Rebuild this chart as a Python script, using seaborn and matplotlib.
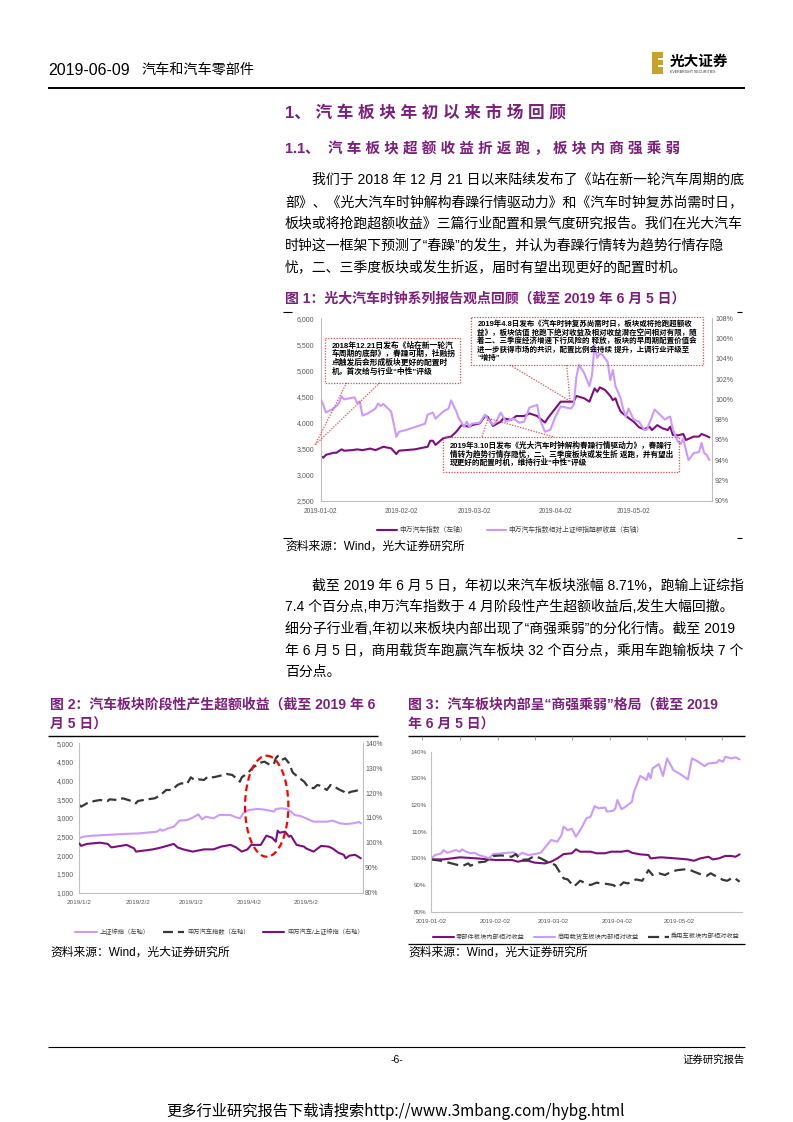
import numpy as np
import pandas as pd
import matplotlib
matplotlib.use("Agg")
import matplotlib.pyplot as plt
import seaborn as sns
from matplotlib.patches import Rectangle, Ellipse
from matplotlib.lines import Line2D

# ---------------- data ----------------
# Figure 1: 申万汽车指数 (left axis)
c1_index_dates = ["01-02","01-03","01-04","01-07","01-08","01-10","01-11","01-14","01-16","01-18",
                  "01-21","01-23","01-26","01-29","01-31","02-01","02-07","02-12","02-13","02-14",
                  "02-15","02-18","02-21","02-23","02-25","02-28","03-01","03-04","03-06","03-07",
                  "03-09","03-12","03-13","03-16","03-18","03-21","03-23","03-26","03-27","03-29",
                  "03-30","04-01","04-04","04-07","04-09","04-10","04-13","04-15","04-17","04-18",
                  "04-19","04-21","04-23","04-24","04-25","04-26","04-27","04-29","05-02","05-04",
                  "05-06","05-08","05-09","05-11","05-13","05-15","05-16","05-17","05-19","05-21",
                  "05-22","05-25","05-27","05-28","05-30","05-31"]
c1_index_vals = [3358,3325,3380,3420,3420,3485,3460,3470,3485,3470,
                 3500,3470,3535,3505,3395,3460,3485,3535,3650,3650,
                 3570,3700,3730,3825,3950,3920,3950,3985,4125,4110,
                 3935,4015,4080,4050,4125,4125,4175,4125,4080,4000,
                 4080,4210,4400,4400,4400,4510,4465,4400,4655,4590,
                 4675,4625,4510,4430,4465,4320,4210,4125,4015,3910,
                 3870,3920,3855,3950,3890,3855,3920,3760,3755,3780,
                 3665,3730,3730,3780,3740,3715]
# Figure 1: 申万汽车指数相对上证综指超额收益 (right axis, %)
c1_excess_dates = ["01-02","01-03","01-04","01-07","01-09","01-10","01-11","01-13","01-15","01-16",
                   "01-17","01-18","01-20","01-23","01-24","01-25","01-26","01-29","01-30","01-31",
                   "02-01","02-04","02-11","02-12","02-14","02-15","02-18","02-20","02-21","02-23",
                   "02-24","02-26","02-27","02-28","03-01","03-04","03-06","03-07","03-09","03-10",
                   "03-12","03-14","03-17","03-19","03-21","03-23","03-26","03-27","03-29","03-31",
                   "04-02","04-04","04-08","04-09","04-10","04-11","04-13","04-15","04-16","04-17",
                   "04-18","04-19","04-20","04-22","04-23","04-24","04-25","04-27","04-28","04-29",
                   "04-30","05-02","05-04","05-06","05-07","05-09","05-10","05-12","05-14","05-15",
                   "05-16","05-17","05-19","05-20","05-21","05-22","05-23","05-25","05-27","05-28",
                   "05-29","05-30","05-31"]
c1_excess_vals = [100.0,99.45,98.7,99.1,99.6,100.3,100.0,100.1,100.2,99.6,
                  99.8,98.4,98.6,99.1,99.6,99.35,99.55,98.8,97.6,96.3,
                  96.8,97.0,97.6,98.5,98.7,98.1,98.8,99.1,99.9,98.8,
                  98.1,97.3,97.8,97.3,97.6,97.7,98.5,98.1,97.5,97.7,
                  98.7,97.8,98.1,97.7,97.8,99.2,99.45,98.0,96.8,97.0,
                  98.3,99.3,99.1,99.45,102.2,103.4,102.6,101.3,102.4,105.4,
                  104.1,104.5,104.4,103.7,101.9,102.9,101.3,100.1,99.0,98.3,
                  99.1,98.0,97.8,97.0,97.0,98.3,99.0,98.5,98.0,98.2,
                  98.3,97.0,95.8,95.6,96.1,95.0,94.0,94.7,94.8,95.7,
                  94.7,94.5,94.0]
c1_left_ticks = [2500, 3000, 3500, 4000, 4500, 5000, 5500, 6000]
c1_left_labels = ["2,500", "3,000", "3,500", "4,000", "4,500", "5,000", "5,500", "6,000"]
c1_right_ticks = [90, 92, 94, 96, 98, 100, 102, 104, 106, 108]
c1_right_labels = ["90%", "92%", "94%", "96%", "98%", "100%", "102%", "104%", "106%", "108%"]
c1_xtick_labels = ["2019-01-02", "2019-02-02", "2019-03-02", "2019-04-02", "2019-05-02"]
c1_legend = ["申万汽车指数（左轴）", "申万汽车指数相对上证综指超额收益（右轴）"]

# Figure 2
c2_auto_dates = ["01-02","01-03","01-06","01-10","01-13","01-17","01-18","01-22","01-25","01-29",
                 "02-01","02-02","02-07","02-11","02-14","02-17","02-20","02-23","02-25","02-28",
                 "03-02","03-04","03-06","03-09","03-11","03-14","03-17","03-21","03-24","03-26",
                 "03-28","03-29","04-01","04-04","04-08","04-10","04-13","04-15","04-16","04-17",
                 "04-19","04-21","04-23","04-25","04-28","05-01","05-03","05-06","05-08","05-10",
                 "05-13","05-15","05-17","05-20","05-22","05-23","05-26","05-28","05-30","05-31"]
c2_auto_vals = [3348,3304,3393,3455,3482,3455,3500,3482,3527,3464,
                3393,3455,3500,3527,3616,3750,3750,3884,3929,3911,
                4089,4018,4036,4018,4107,4089,4125,4179,4152,4063,
                3973,4089,4196,4357,4482,4509,4420,4446,4598,4661,
                4554,4598,4464,4214,4089,3973,3839,3795,3884,3857,
                3750,3884,3839,3750,3705,3643,3705,3723,3750,3705]
c2_sh_dates = ["01-02","01-04","01-09","01-16","01-25","02-03","02-12","02-14","02-15","02-18",
               "02-21","02-24","02-28","03-03","03-06","03-08","03-10","03-14","03-17","03-23",
               "03-26","03-28","03-30","04-02","04-06","04-09","04-13","04-15","04-16","04-19",
               "04-22","04-24","04-26","04-29","05-02","05-06","05-09","05-13","05-16","05-20",
               "05-23","05-27","05-30","05-31"]
c2_sh_vals = [2455,2500,2527,2545,2571,2589,2634,2696,2661,2723,
              2768,2929,2946,3009,3098,2964,3036,2991,3080,3080,
              3018,2991,3143,3214,3241,3232,3196,3170,3241,3259,
              3241,3170,3080,3054,2991,2902,2902,2902,2929,2857,
              2839,2857,2893,2857]
c2_ratio_dates = ["01-02","01-03","01-06","01-09","01-13","01-17","01-19","01-24","01-27","01-31",
                  "02-01","02-05","02-10","02-14","02-16","02-21","02-23","02-26","03-03","03-09",
                  "03-14","03-18","03-23","03-26","03-29","04-01","04-03","04-08","04-11","04-14",
                  "04-16","04-17","04-18","04-21","04-23","04-24","04-27","05-01","05-02","05-06",
                  "05-10","05-14","05-16","05-19","05-22","05-23","05-25","05-28","05-30","05-31"]
c2_ratio_vals = [99.8,98.8,99.6,99.8,100.1,99.6,98.2,98.8,99.2,97.8,
                 96.5,96.9,97.4,98.1,98.5,99.6,98.2,97.4,96.5,97.4,
                 97.4,98.5,99.2,98.2,96.5,97.4,99.2,99.2,102.9,102.1,
                 100.5,104.9,104.1,104.5,102.5,102.9,99.2,98.5,97.8,96.5,
                 98.8,98.5,97.8,96.1,95.2,93.8,94.9,95.2,94.3,93.8]
c2_left_ticks = [1000, 1500, 2000, 2500, 3000, 3500, 4000, 4500, 5000]
c2_left_labels = ["1,000", "1,500", "2,000", "2,500", "3,000", "3,500", "4,000", "4,500", "5,000"]
c2_right_ticks = [80, 90, 100, 110, 120, 130, 140]
c2_right_labels = ["80%", "90%", "100%", "110%", "120%", "130%", "140%"]
c2_xtick_dates = ["2019-01-02", "2019-02-02", "2019-03-02", "2019-04-02", "2019-05-02"]
c2_xtick_labels = ["2019/1/2", "2019/2/2", "2019/3/2", "2019/4/2", "2019/5/2"]
c2_legend = ["上证综指（左轴）", "申万汽车指数（左轴）", "申万汽车/上证综指（右轴）"]

# Figure 3
c3_parts_dates = ["01-02","01-08","01-16","01-24","02-02","02-10","02-13","02-15","02-18","02-21",
                  "02-26","03-01","03-04","03-07","03-11","03-13","03-15","03-20","03-23","03-27",
                  "03-30","04-04","04-07","04-09","04-13","04-17","04-18","04-23","04-30","05-06",
                  "05-09","05-12","05-16","05-18","05-21","05-24","05-27","05-29","05-31"]
c3_parts_vals = [99.6,99.6,100.4,100.0,99.4,99.4,98.75,99.1,99.1,98.4,
                 98.1,98.75,100.0,101.6,101.9,103.4,102.5,102.5,101.9,101.9,
                 102.5,102.5,102.9,102.1,101.5,101.25,100.0,100.4,100.0,99.6,
                 99.1,100.0,100.6,99.6,100.0,100.9,100.9,100.6,101.5]
c3_truck_dates = ["01-02","01-04","01-07","01-08","01-10","01-13","01-14","01-16","01-17","01-19",
                  "01-21","01-23","01-25","01-28","01-30","02-01","02-05","02-08","02-11","02-13",
                  "02-15","02-18","02-21","02-24","02-27","03-01","03-04","03-06","03-07","03-09",
                  "03-11","03-13","03-16","03-18","03-20","03-22","03-24","03-27","03-28","03-31",
                  "04-01","04-02","04-04","04-06","04-09","04-10","04-13","04-15","04-16","04-17",
                  "04-18","04-19","04-22","04-24","04-26","04-29","05-03","05-06","05-08","05-11",
                  "05-14","05-16","05-20","05-21","05-23","05-24","05-27","05-29","05-31"]
c3_truck_vals = [100.0,101.25,101.9,103.1,102.1,102.9,103.1,102.5,103.4,102.5,
                 101.9,102.1,101.25,100.6,100.0,101.6,101.9,102.1,102.25,100.9,
                 102.1,101.25,101.6,102.1,105.0,106.9,106.25,108.75,111.9,110.6,
                 111.1,108.1,111.9,115.0,115.6,119.6,118.75,119.1,117.5,117.9,
                 118.75,121.9,118.4,119.4,121.25,125.0,130.9,130.0,129.4,131.9,
                 130.0,133.75,135.4,130.9,137.5,133.1,131.25,129.6,137.5,136.25,
                 134.6,135.6,135.9,136.9,136.25,138.1,137.5,137.9,137.1]
c3_car_dates = ["01-02","01-07","01-12","01-17","01-20","01-21","01-25","01-28","01-30","02-01",
                "02-05","02-10","02-12","02-14","02-18","02-21","02-24","02-27","03-03","03-05",
                "03-07","03-09","03-12","03-15","03-18","03-20","03-23","03-25","03-28","03-31",
                "04-02","04-05","04-07","04-11","04-14","04-17","04-19","04-22","04-25","04-28",
                "05-01","05-06","05-09","05-12","05-15","05-17","05-20","05-23","05-25","05-28",
                "05-31"]
c3_car_vals = [99.6,99.1,98.1,97.1,98.1,97.25,98.5,98.75,99.75,100.9,
               101.1,100.6,101.6,99.4,99.6,100.9,100.0,98.75,97.5,95.0,
               92.5,92.1,89.4,91.6,90.6,90.0,90.9,90.6,90.4,90.0,
               89.0,91.0,90.6,92.1,91.6,95.6,93.75,94.4,93.75,95.0,
               95.6,96.0,95.0,94.1,93.4,94.4,93.1,91.9,91.6,92.9,
               91.25]
c3_ticks = [80, 90, 100, 110, 120, 130, 140]
c3_tick_labels = ["80%", "90%", "100%", "110%", "120%", "130%", "140%"]
c3_xtick_labels = ["2019-01-02", "2019-02-02", "2019-03-02", "2019-04-02", "2019-05-02"]
c3_legend = ["零部件板块内部相对收益", "商用载货车板块内部相对收益", "乘用车板块内部相对收益"]

# ---------------- style ----------------
sns.set_theme(style="white")
MIX = ["Liberation Sans", "Noto Sans CJK SC", "DejaVu Sans"]
plt.rcParams["font.family"] = MIX
plt.rcParams["axes.unicode_minus"] = False

DARK = "#7E0E80"
LIGHT = "#CC99FF"
BLACKD = "#383838"
PURPLE_T = "#7E1F7F"
SPINE = "#BFBFBF"
TICKC = "#595959"
RED = "#F04848"

W, H = 793, 1122
fig = plt.figure(figsize=(W / 100, H / 100), dpi=100)
fig.patch.set_facecolor("white")


def axes_px(l, t, r, b):
    return fig.add_axes([l / W, 1 - b / H, (r - l) / W, (b - t) / H])


def dts(lst):
    return pd.to_datetime(["2019-" + s for s in lst])


XMIN, XMAX = pd.Timestamp("2019-01-02"), pd.Timestamp("2019-06-01")


def style_axes(ax, twin=None, ylab_pad=4.5, rlab_pad=2.0, xfs=4.8, yfs=5.0):
    ax.set_facecolor("none")
    ax.spines["top"].set_visible(False)
    ax.spines["right"].set_visible(False)
    for s in ["left", "bottom"]:
        ax.spines[s].set_color(SPINE)
        ax.spines[s].set_linewidth(0.8)
    ax.tick_params(axis="y", length=0, labelsize=yfs, labelcolor=TICKC, pad=ylab_pad)
    ax.tick_params(axis="x", length=2.5, width=0.6, color=SPINE, labelsize=xfs,
                   labelcolor=TICKC, pad=3)
    ax.set_xlabel("")
    ax.set_ylabel("")
    ax.grid(False)
    if twin is not None:
        for s in ["top", "left", "bottom"]:
            twin.spines[s].set_visible(False)
        twin.spines["right"].set_visible(True)
        twin.spines["right"].set_color(SPINE)
        twin.spines["right"].set_linewidth(0.8)
        twin.tick_params(axis="y", length=0, labelsize=yfs, labelcolor=TICKC, pad=rlab_pad)
        twin.set_ylabel("")
        twin.grid(False)


# ---------------- Figure 1 ----------------
ax1 = axes_px(320.7, 318.3, 712, 500.7)
sns.lineplot(x=dts(c1_index_dates), y=c1_index_vals, ax=ax1, color=DARK, lw=1.5, legend=False)
ax1b = ax1.twinx()
sns.lineplot(x=dts(c1_excess_dates), y=c1_excess_vals, ax=ax1b, color=LIGHT, lw=1.5, legend=False)
ax1.set_xlim(XMIN, XMAX)
ax1.set_ylim(2500, 6000)
ax1.set_yticks(c1_left_ticks)
ax1.set_yticklabels(c1_left_labels)
ax1b.set_ylim(90, 108)
ax1b.set_yticks(c1_right_ticks)
ax1b.set_yticklabels(c1_right_labels)
ax1.set_xticks(pd.to_datetime(c1_xtick_labels))
ax1.set_xticklabels(c1_xtick_labels)
style_axes(ax1, ax1b, ylab_pad=4.6, rlab_pad=2.2, xfs=4.8, yfs=5.0)
fig.legend([ax1.lines[0], ax1b.lines[0]], c1_legend, loc="center left",
           bbox_to_anchor=(377 / W, 1 - 530.7 / H), ncol=2, frameon=False, fontsize=4.9,
           handlelength=2.9, handletextpad=0.3, columnspacing=3.0, borderpad=0,
           borderaxespad=0, labelcolor="#404040")

# ---------------- Figure 2 ----------------
ax2 = axes_px(79.3, 743.3, 362.7, 892.7)
sns.lineplot(x=dts(c2_sh_dates), y=c2_sh_vals, ax=ax2, color=LIGHT, lw=1.5, legend=False)
sns.lineplot(x=dts(c2_auto_dates), y=c2_auto_vals, ax=ax2, color=BLACKD, lw=1.6,
             linestyle=(0, (4.5, 2.2)), legend=False)
ax2b = ax2.twinx()
sns.lineplot(x=dts(c2_ratio_dates), y=c2_ratio_vals, ax=ax2b, color=DARK, lw=1.5, legend=False)
ax2.set_xlim(XMIN, XMAX)
ax2.set_ylim(1000, 5000)
ax2.set_yticks(c2_left_ticks)
ax2.set_yticklabels(c2_left_labels)
ax2b.set_ylim(80, 140)
ax2b.set_yticks(c2_right_ticks)
ax2b.set_yticklabels(c2_right_labels)
ax2.set_xticks(pd.to_datetime(c2_xtick_dates))
ax2.set_xticklabels(c2_xtick_labels)
style_axes(ax2, ax2b, ylab_pad=4.3, rlab_pad=1.7, xfs=4.6, yfs=4.9)
fig.legend([ax2.lines[0], ax2.lines[1], ax2b.lines[0]], c2_legend, loc="center left",
           bbox_to_anchor=(75 / W, 1 - 931.7 / H), ncol=3, frameon=False, fontsize=4.5,
           handlelength=3.5, handletextpad=0.5, columnspacing=2.0, borderpad=0,
           borderaxespad=0, labelcolor="#404040")

# ---------------- Figure 3 ----------------
ax3 = axes_px(431, 751.7, 741.7, 911.7)
sns.lineplot(x=dts(c3_parts_dates), y=c3_parts_vals, ax=ax3, color=DARK, lw=1.5, legend=False)
sns.lineplot(x=dts(c3_truck_dates), y=c3_truck_vals, ax=ax3, color=LIGHT, lw=1.5, legend=False)
sns.lineplot(x=dts(c3_car_dates), y=c3_car_vals, ax=ax3, color=BLACKD, lw=1.6,
             linestyle=(0, (5, 2.5)), legend=False)
ax3.set_xlim(XMIN, XMAX)
ax3.set_ylim(80, 140)
ax3.set_yticks(c3_ticks)
ax3.set_yticklabels(c3_tick_labels)
ax3.set_xticks(pd.to_datetime(c3_xtick_labels))
ax3.set_xticklabels(c3_xtick_labels)
style_axes(ax3, None, ylab_pad=3.1, xfs=4.4, yfs=4.5)
fig.legend(ax3.lines[:3], c3_legend, loc="center left",
           bbox_to_anchor=(433 / W, 1 - 936.7 / H), ncol=3, frameon=False, fontsize=4.5,
           handlelength=3.3, handletextpad=0.4, columnspacing=1.5, borderpad=0,
           borderaxespad=0, labelcolor="#404040")

# ---------------- page overlay ----------------
page = fig.add_axes([0, 0, 1, 1], zorder=20)
page.set_xlim(0, W)
page.set_ylim(H, 0)
page.axis("off")
page.patch.set_alpha(0)


def T(x, y, s, size, color="black", weight="normal", ha="left", family=None, va="center"):
    kw = {}
    if family is not None:
        kw["family"] = family
    page.text(x, y, s, fontsize=size, color=color, fontweight=weight, ha=ha, va=va, **kw)


def L(xs, ys, color="black", lw=0.8, ls="-"):
    page.plot(xs, ys, color=color, lw=lw, ls=ls, solid_capstyle="butt")


# header
T(48, 70, "2019-06-09", 11.5, family=["Liberation Sans Narrow", "Liberation Sans"])
T(141.5, 70, "汽车和汽车零部件", 10.2)
L([48, 745], [88, 88], lw=1.4)
# logo
page.add_patch(Rectangle((652, 52), 11, 22, color="#C9A227", lw=0))
for yy in (57.5, 65):
    page.add_patch(Rectangle((657.5, yy), 5.5, 2.2, color="white", lw=0))
T(670, 61, "光大证券", 10.5, weight="bold", family=["Noto Sans CJK SC"])
T(670, 71.5, "EVERBRIGHT SECURITIES", 2.6, color="#333333")

# headings
T(285, 113, "1、 汽 车 板 块 年 初 以 来 市 场 回 顾", 12, color=PURPLE_T, weight="bold")
T(285, 148.3, "1.1、  汽 车 板 块 超 额 收 益 折 返 跑 ， 板 块 内 商 强 乘 弱", 10.5,
  color=PURPLE_T, weight="bold")

# paragraph 1
para1 = [
    (311.7, "我们于 2018 年 12 月 21 日以来陆续发布了《站在新一轮汽车周期的底"),
    (285, "部》、《光大汽车时钟解构春躁行情驱动力》和《汽车时钟复苏尚需时日，"),
    (285, "板块或将抢跑超额收益》三篇行业配置和景气度研究报告。我们在光大汽车"),
    (285, "时钟这一框架下预测了“春躁”的发生，并认为春躁行情转为趋势行情存隐"),
    (285, "忧，二、三季度板块或发生折返，届时有望出现更好的配置时机。"),
]
for i, (x, s) in enumerate(para1):
    T(x, 180 + 21.8 * i, s, 10)

# figure 1 caption & source
T(285, 299, "图 1：光大汽车时钟系列报告观点回顾（截至 2019 年 6 月 5 日）", 10,
  color=PURPLE_T, weight="bold")
for xs, ys in [([283, 292], 311.7), ([737, 742], 311.7), ([283, 292], 538.3), ([737, 742], 538.3)]:
    L(xs, [ys, ys], lw=0.8)
T(285, 547, "资料来源：Wind，光大证券研究所", 8.5)

# callout boxes (figure 1)
box_ls = (0, (1, 1.2))
boxA = [
    "2018年12.21日发布《站在新一轮汽",
    "车周期的底部》，春躁可期，社融拐",
    "点触发后会形成板块更好的配置时",
    "机，首次给与行业“中性”评级",
]
page.add_patch(Rectangle((325, 338.3), 135, 44.4, fill=False, ec=RED, lw=0.9, ls=box_ls))
L([346.7, 315], [382.7, 445], color=RED, lw=0.9, ls=box_ls)
L([380, 315], [382.7, 445], color=RED, lw=0.9, ls=box_ls)
for i, s in enumerate(boxA):
    T(331.7, 345.5 + 8.7 * i, s, 5.6, weight="bold")

boxB = [
    "2019年4.8日发布《汽车时钟复苏尚需时日，板块或将抢跑超额收",
    "益》，板块估值 抢跑下绝对收益及相对收益潜在空间相对有限，随",
    "着二、三季度经济增速下行风险的 释放，板块的早周期配置价值会",
    "进一步获得市场的共识，配置比例会持续 提升，上调行业评级至",
    "“增持”",
]
page.add_patch(Rectangle((471, 317.3), 231.7, 47.7, fill=False, ec=RED, lw=0.9, ls=box_ls))
L([510, 570], [365, 401], color=RED, lw=0.9, ls=box_ls)
L([566.7, 570], [365, 401], color=RED, lw=0.9, ls=box_ls)
for i, s in enumerate(boxB):
    T(477.3, 324.2 + 8.5 * i, s, 5.4, weight="bold")

boxC = [
    "2019年3.10日发布《光大汽车时钟解构春躁行情驱动力》，春躁行",
    "情转为趋势行情存隐忧，二、三季度板块或发生折 返跑，并有望出",
    "现更好的配置时机，维持行业“中性”评级",
]
page.add_patch(Rectangle((443, 436.7), 236, 35, fill=False, ec=RED, lw=0.9, ls=box_ls))
L([482, 488.3], [436.7, 418.3], color=RED, lw=0.9, ls=box_ls)
L([553, 488.3], [436.7, 418.3], color=RED, lw=0.9, ls=box_ls)
for i, s in enumerate(boxC):
    T(450, 445.8 + 8.7 * i, s, 5.5, weight="bold")

# paragraph 2
para2 = [
    (311.7, "截至 2019 年 6 月 5 日，年初以来汽车板块涨幅 8.71%，跑输上证综指"),
    (285, "7.4 个百分点,申万汽车指数于 4 月阶段性产生超额收益后,发生大幅回撤。"),
    (285, "细分子行业看,年初以来板块内部出现了“商强乘弱”的分化行情。截至 2019"),
    (285, "年 6 月 5 日，商用载货车跑赢汽车板块 32 个百分点，乘用车跑输板块 7 个"),
    (285, "百分点。"),
]
for i, (x, s) in enumerate(para2):
    T(x, 585 + 21.8 * i, s, 10)

# figure 2 caption etc.
T(50, 705, "图 2：汽车板块阶段性产生超额收益（截至 2019 年 6", 10, color=PURPLE_T, weight="bold")
T(50, 725, "月 5 日）", 10, color=PURPLE_T, weight="bold")
L([48, 378], [735.7, 735.7], lw=1.0)
page.add_patch(Ellipse((266.7, 806.2), 43.3, 101, fill=False, ec="#FF0000", lw=1.6,
                       ls=(0, (3, 1.8))))
T(50, 953, "资料来源：Wind，光大证券研究所", 8.5)

# figure 3 caption etc.
T(408, 705, "图 3：汽车板块内部呈“商强乘弱”格局（截至 2019", 10, color=PURPLE_T, weight="bold")
T(408, 725, "年 6 月 5 日）", 10, color=PURPLE_T, weight="bold")
L([408, 745], [735.7, 735.7], lw=1.0)
for xx in [421.7, 460, 497.7, 535, 572.3, 610, 647.3, 685, 722.3]:
    L([xx, xx], [735.7, 739.5], lw=0.5, color="#808080")
L([408, 745], [944, 944], lw=0.9)
T(408, 953, "资料来源：Wind，光大证券研究所", 8.5)

# footer
L([48, 745], [1046.7, 1046.7], lw=0.8)
T(396.5, 1060, "-6-", 7.5, ha="center")
T(745, 1060, "证券研究报告", 7.5, ha="right")
T(396, 1111.7, "更多行业研究报告下载请搜索http://www.3mbang.com/hybg.html", 11, ha="center",
  family=["Noto Sans CJK SC", "DejaVu Sans"])

fig.savefig("out.png", dpi=100, facecolor="white")
